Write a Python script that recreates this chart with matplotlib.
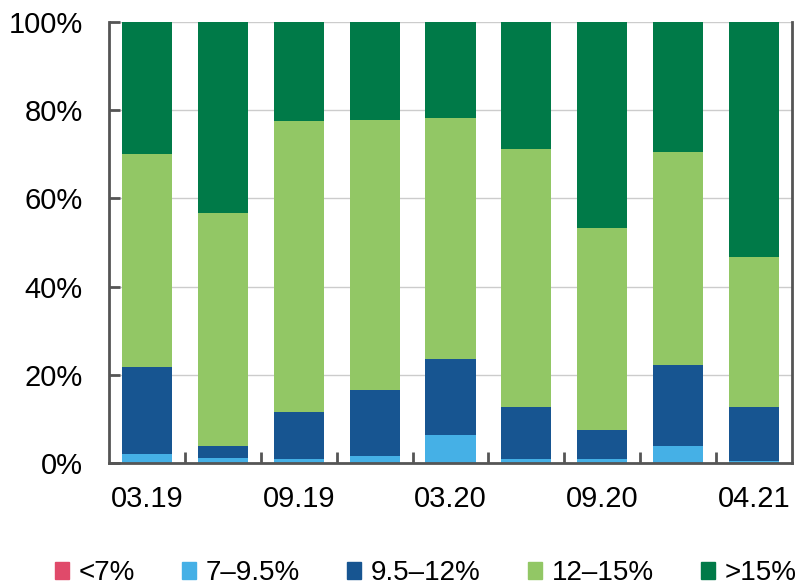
import numpy as np
from matplotlib import pyplot as plt
from matplotlib.patches import Patch

plt.rcParams['font.family'] = ['Liberation Sans', 'DejaVu Sans']

periods = ['03.19', '06.19', '09.19', '12.19', '03.20', '06.20', '09.20', '12.20', '04.21']
tick_labels = ['03.19', '', '09.19', '', '03.20', '', '09.20', '', '04.21']
bands = ['<7%', '7–9.5%', '9.5–12%', '12–15%', '>15%']
colors = ['#E04A6A', '#45B0E6', '#175591', '#92C765', '#007A48']

below_7 = [0, 0, 0, 0, 0, 0, 0, 0, 0]
from_7 = [2.0, 1.1, 1.0, 1.6, 6.3, 0.8, 1.0, 3.9, 0.5]
from_95 = [19.8, 2.8, 10.6, 15.0, 17.3, 11.9, 6.6, 18.4, 12.2]
from_12 = [48.3, 52.8, 66.0, 61.2, 54.6, 58.5, 45.7, 48.2, 34.0]
above_15 = [29.9, 43.3, 22.4, 22.2, 21.8, 28.8, 46.7, 29.5, 53.3]

series = [below_7, from_7, from_95, from_12, above_15]

fig = plt.figure(figsize=(8.02, 5.85), dpi=100)
ax = fig.add_axes([0.136, 0.2085, 0.8515, 0.754])

x = np.arange(len(periods))
bottom = np.zeros(len(periods))
for vals, c in zip(series, colors):
    vals = np.array(vals, dtype=float)
    ax.bar(x, vals, 0.66, bottom=bottom, color=c, zorder=2)
    bottom += vals

ax.set_ylim(0, 100)
ax.set_xlim(-0.5, len(periods) - 0.5)
ax.set_yticks(range(0, 101, 20))
ax.set_yticklabels([f'{v}%' for v in range(0, 101, 20)])
ax.yaxis.grid(True, color='#cccccc', linewidth=1, zorder=0)
ax.set_axisbelow(True)

ax.set_xticks(x)
ax.set_xticklabels(tick_labels)
ax.set_xticks(np.arange(0.5, len(periods) - 0.5), minor=True)
ax.tick_params(axis='x', which='major', length=0, pad=16, labelsize=21)
ax.tick_params(axis='x', which='minor', direction='in', length=8, width=2, color='#555555')
ax.tick_params(axis='y', direction='in', length=8, width=2, color='#555555', pad=19, labelsize=21)

for s in ax.spines.values():
    s.set_color('#555555')
    s.set_linewidth(2)
ax.spines['top'].set_visible(False)

handles = [Patch(color=c, label=b) for b, c in zip(bands, colors)]
fig.legend(handles=handles, loc='lower center', bbox_to_anchor=(0.531, -0.045), ncol=5,
           frameon=False, fontsize=20, handlelength=0.5, handleheight=0.6,
           handletextpad=0.35, columnspacing=1.7)

plt.savefig('out.png', dpi=100)
